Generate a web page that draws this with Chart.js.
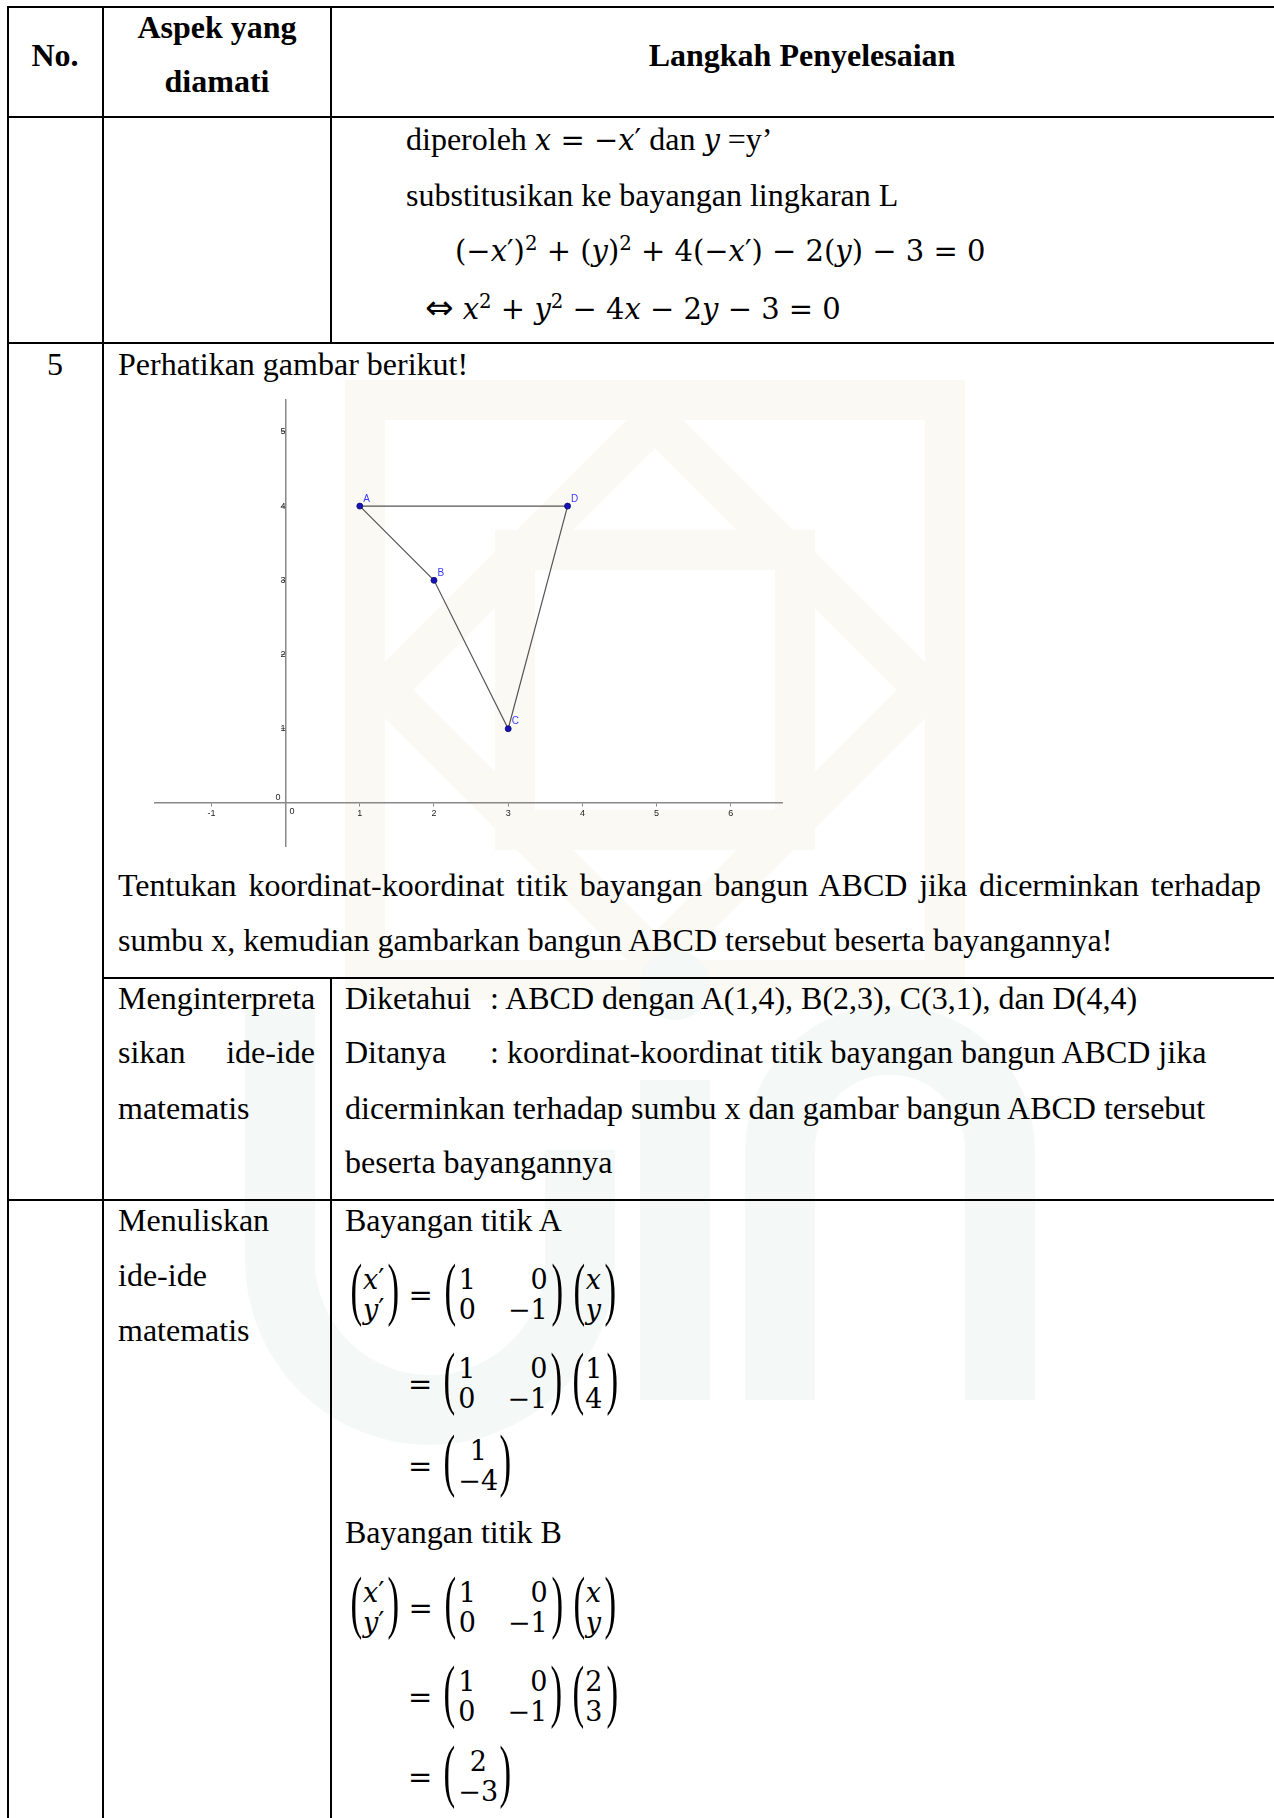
<!DOCTYPE html>
<html>
<head>
<meta charset="utf-8">
<script src="https://cdn.jsdelivr.net/npm/chart.js@4.4.0/dist/chart.umd.min.js"></script>
<style>
  body { margin: 0; background: #fff; }
  #page {
    position: relative; width: 1274px; height: 1818px; overflow: hidden; background: #fff;
    font-family: "Liberation Serif", "Times New Roman", serif; font-size: 32px; color: #000;
  }
  #wm { position: absolute; left: 0; top: 0; }
  .h { position: absolute; height: 2px; background: #000; }
  .v { position: absolute; width: 2px; background: #000; }
  .t { position: absolute; height: 56px; line-height: 56px; white-space: pre; }
  .b { font-weight: bold; }
  .c { transform: translateX(-50%); }
  .j { white-space: normal; text-align: justify; text-align-last: justify; }
  .m { font-family: "DejaVu Serif", serif; font-size: 29px; }
  .arr { font-family: "DejaVu Sans", sans-serif; font-size: 34px; }
  sup { font-size: 0.68em; vertical-align: 0.55em; line-height: 0; }
  .eq {
    position: absolute; height: 64px; display: flex; align-items: center;
    font-family: "DejaVu Serif", serif; font-size: 27px;
  }
  .eq > .op { font-size: 29px; }
  .p {
    display: inline-block; width: 22px; font-family: "Liberation Serif", serif; font-size: 70px;
    line-height: 64px; transform: translateY(-6px) scaleX(0.5);
  }
  .col { display: inline-flex; flex-direction: column; align-items: center; line-height: 30px; }
  .mat { display: inline-grid; grid-template-columns: auto auto; column-gap: 32px; line-height: 30px; }
  .mat span:nth-child(2n) { text-align: right; }
  #chartBox { position: absolute; left: 145px; top: 390px; }
</style>
</head>
<body>
<div id="page">
  <!-- faint watermark behind the table -->
  <svg id="wm" width="1274" height="1818">
    <g fill="none" stroke="#fbf9f3" stroke-width="40">
      <rect x="365" y="400" width="580" height="580"/>
      <polygon points="655,420 925,690 655,960 385,690"/>
      <rect x="515" y="550" width="280" height="280"/>
    </g>
    <g fill="none" stroke="#f4f9f7" stroke-width="70" stroke-linecap="butt">
      <path d="M 280 1010 V 1260 A 150 150 0 0 0 580 1260 V 1150"/>
      <path d="M 675 1080 V 1400"/>
      <path d="M 780 1400 V 1150 A 110 110 0 0 1 1000 1150 V 1400"/>
    </g>
    <circle cx="675" cy="985" r="35" fill="#f4f9f7"/>
  </svg>

  <!-- table lines -->
  <div class="h" style="left:7px;top:6px;width:1267px"></div>
  <div class="h" style="left:7px;top:116px;width:1267px"></div>
  <div class="h" style="left:7px;top:342px;width:1267px"></div>
  <div class="h" style="left:102px;top:977px;width:1172px"></div>
  <div class="h" style="left:7px;top:1199px;width:1267px"></div>
  <div class="v" style="left:7px;top:6px;height:1812px"></div>
  <div class="v" style="left:102px;top:6px;height:1812px"></div>
  <div class="v" style="left:330px;top:6px;height:337px"></div>
  <div class="v" style="left:330px;top:977px;height:841px"></div>

  <!-- header -->
  <div class="t b c" style="left:55px;top:27px">No.</div>
  <div class="t b c" style="left:217px;top:-1px">Aspek yang</div>
  <div class="t b c" style="left:217px;top:53px">diamati</div>
  <div class="t b c" style="left:802px;top:27px">Langkah Penyelesaian</div>

  <!-- continued row -->
  <div class="t" style="left:406px;top:111px">diperoleh <span class="m"><i>x</i> = −<i>x</i>′</span> dan <span class="m"><i>y</i></span> =y’</div>
  <div class="t" style="left:406px;top:167px">substitusikan ke bayangan lingkaran L</div>
  <div class="t" style="left:455px;top:222px"><span class="m">(−<i>x</i>′)<sup>2</sup> + (<i>y</i>)<sup>2</sup> + 4(−<i>x</i>′) − 2(<i>y</i>) − 3 = 0</span></div>
  <div class="t" style="left:425px;top:279px"><span class="arr">⇔</span><span class="m"> <i>x</i><sup>2</sup> + <i>y</i><sup>2</sup> − 4<i>x</i> − 2<i>y</i> − 3 = 0</span></div>

  <!-- row 5 -->
  <div class="t c" style="left:55px;top:336px">5</div>
  <div class="t" style="left:118px;top:336px">Perhatikan gambar berikut!</div>
  <div id="chartBox"><canvas id="graph" width="647" height="466"></canvas></div>
  <div class="t j" style="left:118px;top:857px;width:1143px">Tentukan koordinat-koordinat titik bayangan bangun ABCD jika dicerminkan terhadap</div>
  <div class="t" style="left:118px;top:912px">sumbu x, kemudian gambarkan bangun ABCD tersebut beserta bayangannya!</div>

  <div class="t" style="left:118px;top:970px">Menginterpreta</div>
  <div class="t j" style="left:118px;top:1024px;width:197px">sikan ide-ide</div>
  <div class="t" style="left:118px;top:1080px">matematis</div>
  <div class="t" style="left:345px;top:970px"><span style="display:inline-block;width:145px">Diketahui</span>: ABCD dengan A(1,4), B(2,3), C(3,1), dan D(4,4)</div>
  <div class="t" style="left:345px;top:1024px"><span style="display:inline-block;width:145px">Ditanya</span>: koordinat-koordinat titik bayangan bangun ABCD jika</div>
  <div class="t" style="left:345px;top:1080px">dicerminkan terhadap sumbu x dan gambar bangun ABCD tersebut</div>
  <div class="t" style="left:345px;top:1134px">beserta bayangannya</div>

  <div class="t" style="left:118px;top:1192px">Menuliskan</div>
  <div class="t" style="left:118px;top:1247px">ide-ide</div>
  <div class="t" style="left:118px;top:1302px">matematis</div>

  <div class="t" style="left:345px;top:1192px">Bayangan titik A</div>
  <div class="eq" style="left:345px;top:1263px">
    <span class="p" style="margin-right:-4px">(</span><span class="col"><span><i>x</i>′</span><span><i>y</i>′</span></span><span class="p" style="margin-left:-2px;margin-right:-4px">)</span>
    <span class="op" style="margin-left:8px;margin-right:6px">=</span>
    <span class="p" style="margin-right:-2px">(</span><span class="mat"><span>1</span><span>0</span><span>0</span><span>−1</span></span><span class="p" style="margin-left:-2px;margin-right:-4px">)</span>
    <span class="p" style="margin-left:4px;margin-right:-4px">(</span><span class="col"><i>x</i><i>y</i></span><span class="p" style="margin-left:-2px">)</span>
  </div>
  <div class="eq" style="left:408px;top:1352px">
    <span class="op" style="margin-right:6px">=</span>
    <span class="p" style="margin-right:-2px">(</span><span class="mat"><span>1</span><span>0</span><span>0</span><span>−1</span></span><span class="p" style="margin-left:-2px;margin-right:-4px">)</span>
    <span class="p" style="margin-left:4px;margin-right:-4px">(</span><span class="col"><span>1</span><span>4</span></span><span class="p" style="margin-left:-2px">)</span>
  </div>
  <div class="eq" style="left:408px;top:1434px">
    <span class="op" style="margin-right:6px">=</span>
    <span class="p" style="margin-right:-2px">(</span><span class="col"><span>1</span><span>−4</span></span><span class="p" style="margin-left:-4px">)</span>
  </div>

  <div class="t" style="left:345px;top:1504px">Bayangan titik B</div>
  <div class="eq" style="left:345px;top:1576px">
    <span class="p" style="margin-right:-4px">(</span><span class="col"><span><i>x</i>′</span><span><i>y</i>′</span></span><span class="p" style="margin-left:-2px;margin-right:-4px">)</span>
    <span class="op" style="margin-left:8px;margin-right:6px">=</span>
    <span class="p" style="margin-right:-2px">(</span><span class="mat"><span>1</span><span>0</span><span>0</span><span>−1</span></span><span class="p" style="margin-left:-2px;margin-right:-4px">)</span>
    <span class="p" style="margin-left:4px;margin-right:-4px">(</span><span class="col"><i>x</i><i>y</i></span><span class="p" style="margin-left:-2px">)</span>
  </div>
  <div class="eq" style="left:408px;top:1665px">
    <span class="op" style="margin-right:6px">=</span>
    <span class="p" style="margin-right:-2px">(</span><span class="mat"><span>1</span><span>0</span><span>0</span><span>−1</span></span><span class="p" style="margin-left:-2px;margin-right:-4px">)</span>
    <span class="p" style="margin-left:4px;margin-right:-4px">(</span><span class="col"><span>2</span><span>3</span></span><span class="p" style="margin-left:-2px">)</span>
  </div>
  <div class="eq" style="left:408px;top:1745px">
    <span class="op" style="margin-right:6px">=</span>
    <span class="p" style="margin-right:-2px">(</span><span class="col"><span>2</span><span>−3</span></span><span class="p" style="margin-left:-4px">)</span>
  </div>
</div>

<script>
// -- points of ABCD as drawn in the figure --
const pointNames = ["A", "B", "C", "D"];
const pointX = [1, 2, 3, 3.8];
const pointY = [4, 3, 1, 4];

// -- axis ticks and visible range --
const xTicks = [-1, 0, 1, 2, 3, 4, 5, 6];
const yTicks = [0, 1, 2, 3, 4, 5];
const xRange = [-1.76, 6.69];
const yRange = [-0.58, 5.43];

// closed outline A-B-C-D-A
const outline = pointX.map((x, i) => ({ x: x, y: pointY[i] }));
outline.push({ x: pointX[0], y: pointY[0] });

const tickFont = { size: 9, family: "Liberation Sans" };

// -- point names and the two "0" labels beside the origin --
const labelPlugin = {
  id: "pointLabels",
  afterDatasetsDraw(chart) {
    const ctx = chart.ctx;
    const meta = chart.getDatasetMeta(0);
    ctx.save();
    ctx.font = "10px 'Liberation Sans'";
    ctx.fillStyle = "#3a3aff";
    ctx.textBaseline = "alphabetic";
    pointNames.forEach((name, i) => {
      const el = meta.data[i];
      ctx.fillText(name, el.x + 3.5, el.y - 4.5);
    });
    const xs = chart.scales.x;
    const ys = chart.scales.y;
    const ox = xs.getPixelForValue(0);
    const oy = ys.getPixelForValue(0);
    ctx.font = "9px 'Liberation Sans'";
    ctx.fillStyle = "#222";
    ctx.textBaseline = "middle";
    ctx.textAlign = "left";
    ctx.fillText("0", ox + 4, oy + 8.5);
    ctx.textAlign = "right";
    ctx.fillText("0", ox - 5, oy - 5);
    ctx.restore();
  },
};

new Chart(document.getElementById("graph"), {
  type: "scatter",
  data: {
    datasets: [
      {
        data: outline,
        showLine: true,
        borderColor: "#555",
        borderWidth: 1.2,
        pointRadius: [3, 3, 3, 3, 0],
        pointBackgroundColor: "#1414b8",
        pointBorderColor: "#0a0a6e",
        pointBorderWidth: 0.8,
        tension: 0,
        clip: false,
      },
    ],
  },
  options: {
    responsive: false,
    animation: false,
    layout: { padding: 10 },
    plugins: { legend: { display: false }, tooltip: { enabled: false } },
    scales: {
      x: {
        type: "linear",
        position: { y: 0 },
        min: xRange[0],
        max: xRange[1],
        afterBuildTicks: (s) => { s.ticks = xTicks.map((v) => ({ value: v })); },
        grid: { drawOnChartArea: false, drawTicks: true, tickLength: 3, color: "#888" },
        border: { display: true, color: "#888", width: 1.5 },
        ticks: {
          font: tickFont, color: "#222", padding: 2, maxRotation: 0, autoSkip: false,
          callback: (v) => (v === 0 ? "" : v),
        },
      },
      y: {
        type: "linear",
        position: { x: 0 },
        min: yRange[0],
        max: yRange[1],
        afterBuildTicks: (s) => { s.ticks = yTicks.map((v) => ({ value: v })); },
        grid: { drawOnChartArea: false, drawTicks: true, tickLength: 4, color: "#888" },
        border: { display: true, color: "#888", width: 1.5 },
        ticks: {
          font: tickFont, color: "#222", padding: 1, autoSkip: false,
          callback: (v) => (v === 0 ? "" : v),
        },
      },
    },
  },
  plugins: [labelPlugin],
});
</script>
</body>
</html>
